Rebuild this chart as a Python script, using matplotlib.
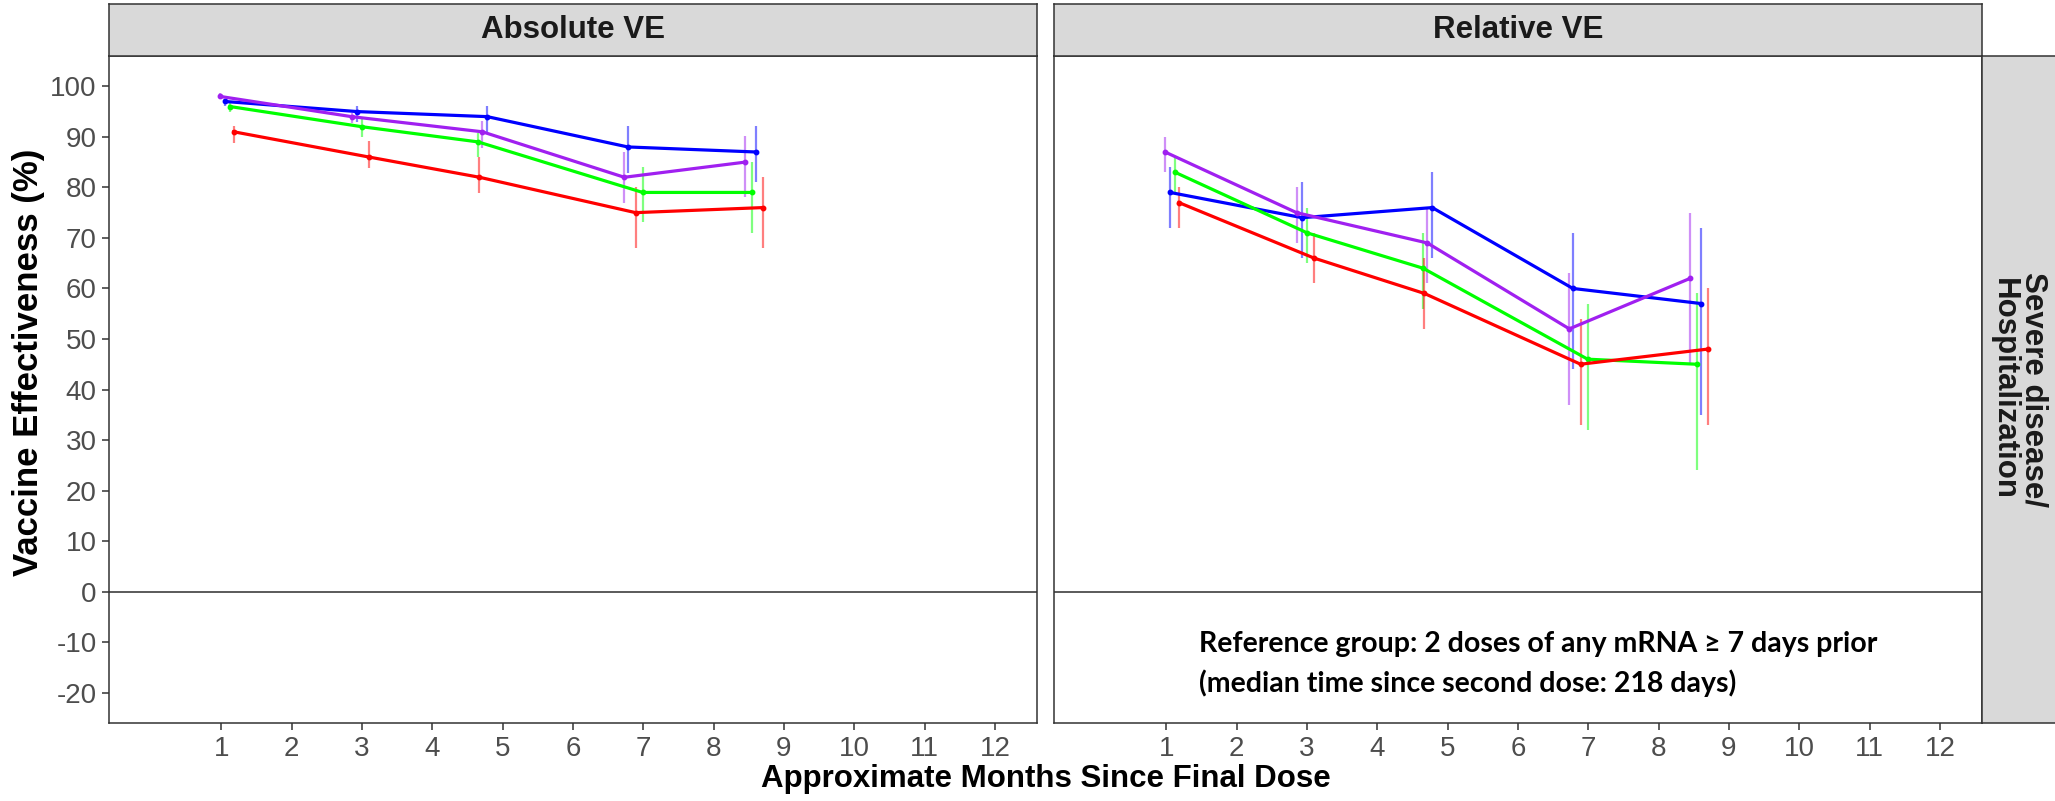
import matplotlib
matplotlib.use("Agg")
import matplotlib.pyplot as plt

# ---------------- data ----------------
panels = ["Absolute VE", "Relative VE"]
row_label = "Severe disease/\nHospitalization"
x_ticks = [1, 2, 3, 4, 5, 6, 7, 8, 9, 10, 11, 12]
y_ticks = [-20, -10, 0, 10, 20, 30, 40, 50, 60, 70, 80, 90, 100]

series_names = ["blue", "green", "purple", "red"]
series_colors = {"blue": "#0000FF", "green": "#00FF00", "purple": "#A020F0", "red": "#FF0000"}

months_blue = [1.05, 2.93, 4.78, 6.78, 8.61]
months_green = [1.12, 3.00, 4.65, 6.99, 8.54]
months_purple = [0.98, 2.85, 4.71, 6.73, 8.45]
months_red = [1.175, 3.10, 4.67, 6.89, 8.70]

# Absolute VE
abs_blue = [97, 95, 94, 88, 87]
abs_blue_lo = [96.1, 92.9, 90.8, 82.9, 81.0]
abs_blue_hi = [97.5, 96.2, 96.2, 92.1, 92.1]
abs_green = [96, 92, 89, 79, 79]
abs_green_lo = [95.0, 90.0, 86.0, 73.1, 71.0]
abs_green_hi = [96.6, 93.5, 90.8, 84.0, 85.1]
abs_purple = [98, 94, 91, 82, 85]
abs_purple_lo = [97.4, 92.8, 87.8, 77.0, 78.1]
abs_purple_hi = [98.6, 94.7, 93.1, 87.1, 90.1]
abs_red = [91, 86, 82, 75, 76]
abs_red_lo = [88.8, 83.8, 78.9, 68.0, 68.0]
abs_red_hi = [92.1, 89.1, 86.1, 80.1, 82.1]

# Relative VE
rel_blue = [79, 74, 76, 60, 57]
rel_blue_lo = [72, 66, 66, 44, 35]
rel_blue_hi = [84, 81, 83, 71, 72]
rel_green = [83, 71, 64, 46, 45]
rel_green_lo = [79, 65, 56, 32, 24]
rel_green_hi = [86, 76, 71, 57, 59]
rel_purple = [87, 75, 69, 52, 62]
rel_purple_lo = [83, 69, 61, 37, 45]
rel_purple_hi = [90, 80, 76, 63, 75]
rel_red = [77, 66, 59, 45, 48]
rel_red_lo = [72, 61, 52, 33, 33]
rel_red_hi = [80, 71, 66, 54, 60]

note_line1 = "Reference group: 2 doses of any mRNA \u2265 7 days prior"
note_line2 = "(median time since second dose: 218 days)"
x_label = "Approximate Months Since Final Dose"
y_label = "Vaccine Effectiveness (%)"

months = {"blue": months_blue, "green": months_green, "purple": months_purple, "red": months_red}
panel_data = {
    "Absolute VE": {
        "blue": (abs_blue, abs_blue_lo, abs_blue_hi),
        "green": (abs_green, abs_green_lo, abs_green_hi),
        "purple": (abs_purple, abs_purple_lo, abs_purple_hi),
        "red": (abs_red, abs_red_lo, abs_red_hi),
    },
    "Relative VE": {
        "blue": (rel_blue, rel_blue_lo, rel_blue_hi),
        "green": (rel_green, rel_green_lo, rel_green_hi),
        "purple": (rel_purple, rel_purple_lo, rel_purple_hi),
        "red": (rel_red, rel_red_lo, rel_red_hi),
    },
}

# ---------------- layout ----------------
W, H = 2055, 801
plt.rcParams["font.family"] = ["Liberation Sans", "DejaVu Sans"]
plt.rcParams["axes.unicode_minus"] = False
fig = plt.figure(figsize=(W / 100, H / 100), dpi=100)
fig.patch.set_facecolor("white")

def box(x0, y0, x1, y1):
    return [x0 / W, 1 - y1 / H, (x1 - x0) / W, (y1 - y0) / H]

panel_top, panel_bot = 56, 723
strip_top = 4
panel_x = [(109, 1037), (1054, 1982)]
edge = "#333333"

axes = []
for (x0, x1), name in zip(panel_x, panels):
    ax = fig.add_axes(box(x0, panel_top, x1, panel_bot))
    ax.set_xlim(-0.6, 12.6)
    ax.set_ylim(-26, 106)
    ax.axhline(0, color="#4D4D4D", lw=1.3, zorder=1)
    for s in series_names:
        y, lo, hi = panel_data[name][s]
        c = series_colors[s]
        ax.vlines(months[s], lo, hi, color=c, alpha=0.5, lw=1.6, zorder=2)
        ax.plot(months[s], y, color=c, lw=2.3, marker="o", ms=3.2, zorder=3,
                solid_joinstyle="round")
    ax.set_xticks(x_ticks)
    ax.set_yticks(y_ticks)
    ax.tick_params(axis="both", direction="out", length=5, width=1.1, color=edge,
                   labelsize=20, labelcolor="#4D4D4D", pad=4)
    for sp in ax.spines.values():
        sp.set_color(edge)
        sp.set_linewidth(1.1)
    if name != panels[0]:
        ax.tick_params(axis="y", left=False, labelleft=False)
    axes.append(ax)

    # column strip
    sax = fig.add_axes(box(x0, strip_top, x1, panel_top))
    sax.set_facecolor("#D9D9D9")
    sax.set_xticks([]); sax.set_yticks([])
    for sp in sax.spines.values():
        sp.set_color(edge); sp.set_linewidth(1.1)
    sax.text(0.5, 0.5, name, ha="center", va="center", fontsize=22.5,
             fontweight="bold", color="#1A1A1A", transform=sax.transAxes)

# row strip
rax = fig.add_axes(box(1982, panel_top, 2060, panel_bot))
rax.set_facecolor("#D9D9D9")
rax.set_xticks([]); rax.set_yticks([])
for sp in rax.spines.values():
    sp.set_color(edge); sp.set_linewidth(1.1)
rax.text(0.47, 0.5, row_label, ha="center", va="center", rotation=-90,
         fontsize=22.5, fontweight="bold", color="#1A1A1A", linespacing=0.95,
         multialignment="center", transform=rax.transAxes)

# annotation in right panel
axr = axes[1]
note_kw = dict(ha="left", va="center", fontsize=20.5, fontweight="bold", color="black",
               family=["Lato", "DejaVu Sans"], transform=axr.transAxes)
axr.text((1199 - 1054) / 928, 1 - (644 - panel_top) / (panel_bot - panel_top), note_line1, **note_kw)
axr.text((1199 - 1054) / 928, 1 - (683 - panel_top) / (panel_bot - panel_top), note_line2, **note_kw)

# axis titles
fig.text(1046 / W, 1 - 779 / H, x_label, ha="center", va="center", fontsize=22.5,
         fontweight="bold", color="black")
fig.text(29 / W, 1 - 362 / H, y_label, ha="center", va="center", rotation=90,
         fontsize=25, fontweight="bold", color="black")

fig.savefig("out.png", dpi=100, facecolor="white")
